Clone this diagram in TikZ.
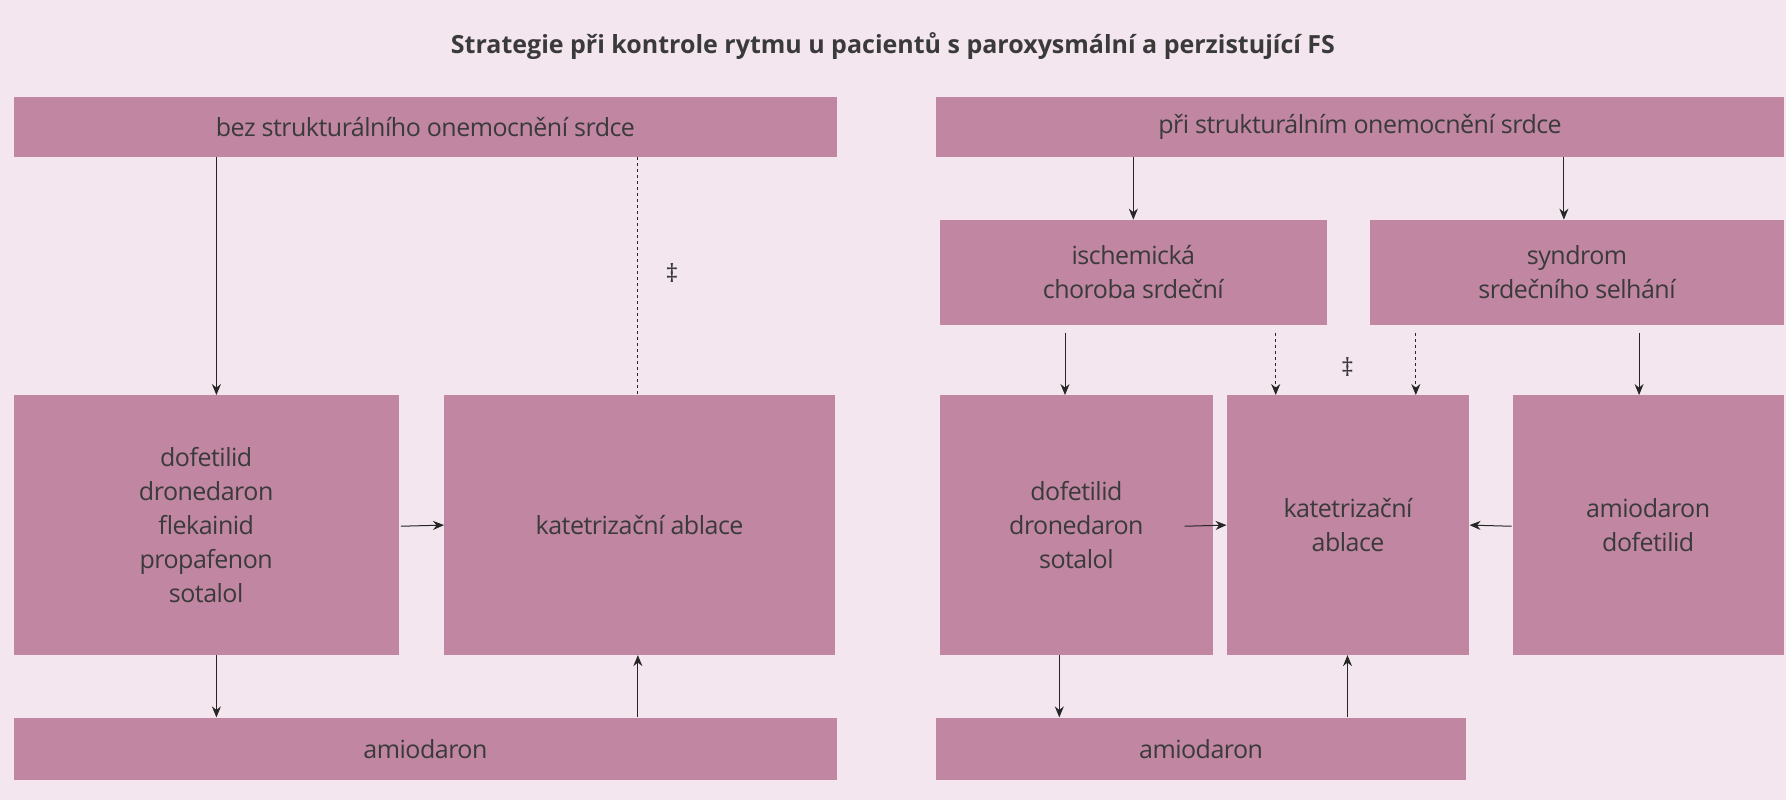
\documentclass[tikz,border=0pt]{standalone}
\usepackage{fontspec}
\setmainfont{Open Sans}
\usetikzlibrary{arrows.meta}
\definecolor{bg}{HTML}{F3E6EE}
\definecolor{bx}{HTML}{C086A2}
\definecolor{tx}{HTML}{3A3A3A}
\begin{document}
\begin{tikzpicture}[x=1.139pt,y=-1.139pt,
 box/.style={fill=bx,draw=none,text=tx,align=center,font=\fontsize{25}{34}\selectfont\addfontfeature{LetterSpace=-2}},
 ar/.style={-{Stealth[length=11pt,width=9pt]},line width=1pt,draw=black!85},
 dar/.style={ar,dashed}]
\fill[bg] (0,0) rectangle (1568,702.4);
\useasboundingbox (0,0) rectangle (1568,702.4);
\node[text=tx,font=\fontsize{25}{30}\selectfont\bfseries] (title) at (784,40) {Strategie při kontrole rytmu u pacientů s paroxysmální a perzistující FS};
\newcommand\bx[6]{\node[box,minimum width=1.139*(#4-#2),minimum height=1.139*(#5-#3)] (#1) at ({(#2+#4)/2},{(#3+#5)/2}) {#6};}
\bx{lt}{12}{85}{735}{138}{bez strukturálního onemocnění srdce}
\bx{rt}{822}{85}{1566}{138}{při strukturálním onemocnění srdce}
\bx{ld}{12}{347}{350}{575}{dofetilid\\dronedaron\\flekainid\\propafenon\\sotalol}
\bx{la}{390}{347}{733}{575}{katetrizační ablace}
\bx{lm}{12}{630}{735}{685}{amiodaron}
\bx{ri}{825}{193}{1165}{285}{ischemická\\choroba srdeční}
\bx{rs}{1203}{193}{1566}{285}{syndrom\\srdečního selhání}
\bx{rd}{825}{347}{1065}{575}{dofetilid\\dronedaron\\sotalol}
\bx{ra}{1077}{347}{1290}{575}{katetrizační\\ablace}
\bx{rr}{1328}{347}{1566}{575}{amiodaron\\dofetilid}
\bx{rm}{822}{630}{1287}{685}{amiodaron}
% left
\draw[ar] (lt.south -| 190,0) -- (ld.north -| 190,0);
\draw[dashed,line width=1pt,draw=black!85] (lt.south -| 560,0) -- (la.north -| 560,0);
\node[text=tx,font=\fontsize{25}{30}\selectfont] (dl) at (590,240) {‡};
\draw[ar] (352,462) -- (la.west);
\draw[ar] (ld.south -| 190,0) -- (lm.north -| 190,0);
\draw[ar] (lm.north -| 560,0) -- (la.south -| 560,0);
% right
\draw[ar] (rt.south -| 995,0) -- (ri.north -| 995,0);
\draw[ar] (rt.south -| 1373,0) -- (rs.north -| 1373,0);
\draw[ar] (935,292) -- (rd.north -| 935,0);
\draw[dar] (1120,292) -- (ra.north -| 1120,0);
\draw[dar] (1243,292) -- (ra.north -| 1243,0);
\draw[ar] (1439,292) -- (rr.north -| 1439,0);
\node[text=tx,font=\fontsize{25}{30}\selectfont] (dr) at (1183,322) {‡};
\draw[ar] (1040,462) -- (ra.west);
\draw[ar] (1327,462) -- (ra.east);
\draw[ar] (rd.south -| 930,0) -- (rm.north -| 930,0);
\draw[ar] (rm.north -| 1183,0) -- (ra.south -| 1183,0);
\end{tikzpicture}
\end{document}
